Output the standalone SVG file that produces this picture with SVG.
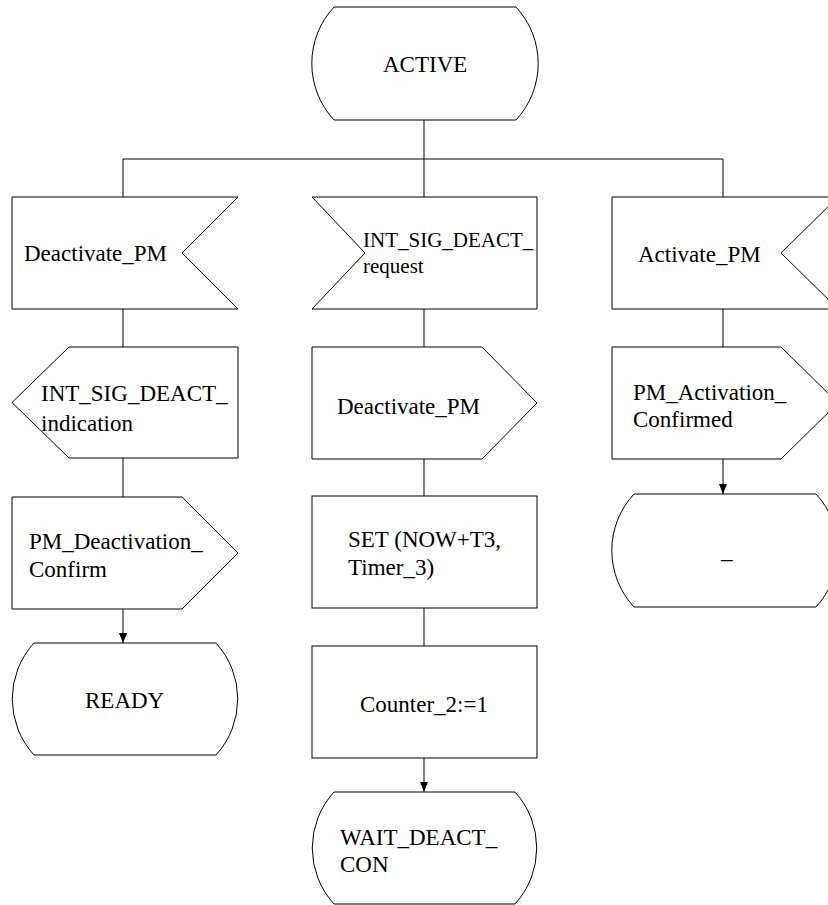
<svg xmlns="http://www.w3.org/2000/svg" width="828" height="905" viewBox="0 0 828 905">
<style>
.s{fill:#fff;stroke:#000;stroke-width:1}
.c{fill:none;stroke:#000;stroke-width:1}
text{font-family:"Liberation Serif","Times New Roman",serif;font-size:23px;fill:#000}
.sm{font-size:21px}
</style>
<defs>
<marker id="ah" markerUnits="userSpaceOnUse" markerWidth="10" markerHeight="8" refX="10" refY="4" orient="auto">
<path d="M0,0 L10,4 L0,8 Z" fill="#000"/>
</marker>
</defs>
<rect x="0" y="0" width="828" height="905" fill="#fff"/>
<g id="connectors">
<path class="c" d="M424,120 V159 M123,159 H723 M123,159 V197 M424,159 V197 M723,159 V197"/>
<path class="c" d="M123,309 V347 M424,309 V347 M723,309 V347"/>
<path class="c" d="M123,458 V497 M424,459 V496 M424,608 V646"/>
<path class="c" d="M123,609 V643" marker-end="url(#ah)"/>
<path class="c" d="M424,758 V792" marker-end="url(#ah)"/>
<path class="c" d="M723,459 V494" marker-end="url(#ah)"/>
</g>
<g id="active">
<path class="s" d="M334,7 H516 A83 83 0 0 1 516,120 H334 A83 83 0 0 1 334,7 Z"/>
<text x="383" y="72">ACTIVE</text>
</g>
<g id="in_deactivate_pm">
<path class="s" d="M12,197 H238 L182,253 L238,309 H12 Z"/>
<text x="24" y="261">Deactivate_PM</text>
</g>
<g id="in_int_sig_deact_request">
<path class="s" d="M312,197 H537 V309 H312 L365,253 Z"/>
<text class="sm" x="363" y="247">INT_SIG_DEACT_</text>
<text class="sm" x="363" y="273">request</text>
</g>
<g id="in_activate_pm">
<path class="s" d="M612,197 H838 L781,253 L838,309 H612 Z"/>
<text x="638" y="262">Activate_PM</text>
</g>
<g id="out_int_sig_deact_indication">
<path class="s" d="M69,347 H238 V458 H69 L12,402.5 Z"/>
<text x="41" y="401">INT_SIG_DEACT_</text>
<text x="41" y="431">indication</text>
</g>
<g id="out_deactivate_pm">
<path class="s" d="M312,347 H482 L537,403 L482,459 H312 Z"/>
<text x="337" y="414">Deactivate_PM</text>
</g>
<g id="out_pm_activation_confirmed">
<path class="s" d="M612,347 H781 L838,403 L781,459 H612 Z"/>
<text x="633" y="400">PM_Activation_</text>
<text x="633" y="427">Confirmed</text>
</g>
<g id="out_pm_deactivation_confirm">
<path class="s" d="M12,497 H182 L238,553 L182,609 H12 Z"/>
<text x="29" y="549">PM_Deactivation_</text>
<text x="29" y="577">Confirm</text>
</g>
<g id="task_set">
<rect class="s" x="312" y="496" width="225" height="112"/>
<text x="348" y="547">SET (NOW+T3,</text>
<text x="348" y="575">Timer_3)</text>
</g>
<g id="task_counter">
<rect class="s" x="312" y="646" width="225" height="112"/>
<text x="360" y="712">Counter_2:=1</text>
</g>
<g id="ready">
<path class="s" d="M34,643 H216 A83 83 0 0 1 216,755 H34 A83 83 0 0 1 34,643 Z"/>
<text x="85" y="708">READY</text>
</g>
<g id="dash_state">
<path class="s" d="M634,494 H816 A83 83 0 0 1 816,607 H634 A83 83 0 0 1 634,494 Z"/>
<text x="721" y="558">_</text>
</g>
<g id="wait_deact_con">
<path class="s" d="M334,792 H515 A83 83 0 0 1 515,904 H334 A83 83 0 0 1 334,792 Z"/>
<text x="340" y="845">WAIT_DEACT_</text>
<text x="340" y="872">CON</text>
</g>
</svg>
